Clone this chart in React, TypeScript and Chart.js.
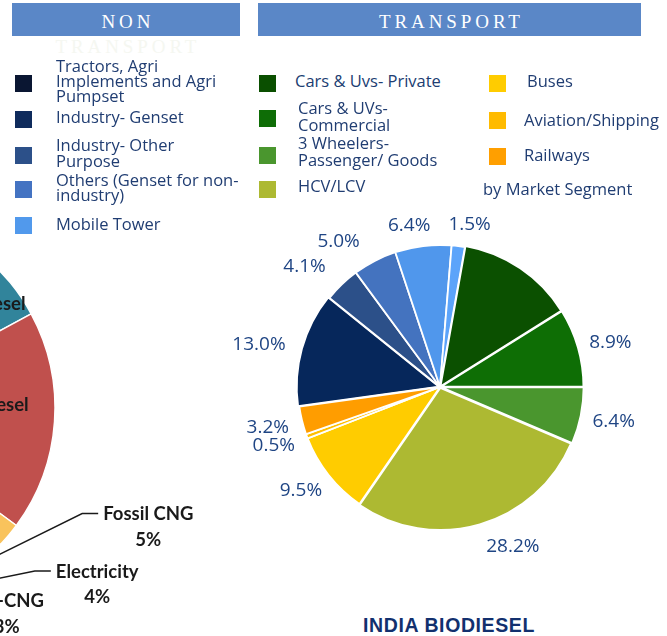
import React, { useEffect, useRef } from "react";
import { Chart, registerables } from "chart.js";
Chart.register(...registerables);

// ---------- DATA ----------
const nonTransportCategories = [
  "Tractors, Agri\nImplements and Agri\nPumpset",
  "Industry- Genset",
  "Industry- Other\nPurpose",
  "Others (Genset for non-\nindustry)",
  "Mobile Tower",
];
const transportCategories = [
  "Cars & Uvs- Private",
  "Cars & UVs-\nCommercial",
  "3 Wheelers-\nPassenger/ Goods",
  "HCV/LCV",
  "Buses",
  "Aviation/Shipping",
  "Railways",
];
const segmentCategories = [...nonTransportCategories, ...transportCategories];
// share of India biodiesel demand (%), clockwise from the navy slice
const segmentShares = [13.0, 4.1, 5.0, 6.4, 1.5, 13.3, 8.9, 6.4, 28.2, 9.5, 0.5, 3.2];
const unlabeledSegments = ["Cars & Uvs- Private"];

const fuelCategories = ["Biodiesel", "Fossil Diesel", "Ethanol", "Fossil CNG", "Electricity", "Bio-CNG", "Fossil Petrol"];
const fuelShares = [6, 18, 2, 5, 4, 3, 62];

const headerTexts = ["NON", "TRANSPORT"];
const chartTitle = "INDIA BIODIESEL";
const legendNote = "by Market Segment";

// ---------- STYLES ----------
const sliceColors = ["#06275b", "#2c5089", "#4473bf", "#5097ec", "#5ca4fa", "#0b5000", "#0e6e05", "#4a962e", "#adb932", "#ffcc00", "#ffbf00", "#ff9d00"];
const sliceOffsets = [4, 0, 0, 0, 0, 4, 4, 4, 4, 0, 0, 0];
const legendColors = ["#0a1632", "#0f2b5c", "#2c5089", "#4473c2", "#5199ec", "#0a4f00", "#0e6d06", "#4a962e", "#adb932", "#ffcc00", "#ffbb00", "#ff9f00"];
const fuelColors = ["#31849b", "#c0504d", "#f9c35c", "#9bbb59", "#8064a2", "#4bacc6", "#4f81bd"];

const TEXT_BLUE = "#203d72";
const LABEL_BLUE = "#1f4584";
const LEG_FS = 16.5;
const baseOff = (lh: number) => (lh - 1.362 * LEG_FS) / 2 + 1.069 * LEG_FS;

// legend layout: square x/y, text x, first baseline, line height
const legendLayout = [
  { sx: 15, sy: 75, tx: 56, by: 72, lh: 15.2 },
  { sx: 15, sy: 111, tx: 56, by: 123, lh: 15.2 },
  { sx: 15, sy: 147, tx: 56, by: 151.5, lh: 15.2 },
  { sx: 15, sy: 181, tx: 56, by: 186, lh: 15.2 },
  { sx: 15, sy: 217, tx: 56, by: 230, lh: 15.2 },
  { sx: 259, sy: 75, tx: 295, by: 88, lh: 16.8 },
  { sx: 259, sy: 110, tx: 298, by: 115, lh: 16.8 },
  { sx: 259, sy: 147, tx: 298, by: 150, lh: 16.8 },
  { sx: 259, sy: 181, tx: 298, by: 193, lh: 16.8 },
  { sx: 489, sy: 75, tx: 527, by: 88, lh: 16.8 },
  { sx: 489, sy: 112, tx: 524, by: 127, lh: 16.8 },
  { sx: 489, sy: 148, tx: 524, by: 162, lh: 16.8 },
];

const flat = (s: string) => s.replace(/-\n/g, "-").replace(/\n/g, " ");

// ---------- PLUGINS ----------
const mainLabelPlugin = {
  id: "mainLabels",
  afterDatasetsDraw(chart: any, _a: any, opts: any) {
    const ctx = chart.ctx;
    const meta = chart.getDatasetMeta(0);
    const labels = chart.data.labels as string[];
    const data = chart.data.datasets[0].data as number[];
    ctx.save();
    ctx.font = `${opts.size}px ${opts.family}`;
    ctx.fillStyle = opts.color;
    ctx.textAlign = "center";
    ctx.textBaseline = "alphabetic";
    const h = opts.boxHeight;
    const items: any[] = [];
    meta.data.forEach((arc: any, i: number) => {
      if (opts.hidden.includes(labels[i])) return;
      const p = arc.getProps(["x", "y", "startAngle", "endAngle", "outerRadius"], true);
      const mid = (p.startAngle + p.endAngle) / 2;
      const text = data[i].toFixed(1) + "%";
      const w = ctx.measureText(text).width;
      const r = p.outerRadius + opts.gap;
      const dx = Math.cos(mid), dy = Math.sin(mid);
      const n = opts.nudge[labels[i]] || [0, 0];
      items.push({
        text, w,
        side: Math.abs(dx) > Math.abs(dy),
        x: p.x + (r + w / 2) * dx + n[0],
        y: p.y + (r + h / 2) * dy + n[1],
      });
    });
    for (let it = 0; it < 12; it++) {
      for (let a = 0; a < items.length; a++) {
        for (let b = a + 1; b < items.length; b++) {
          const A = items[a], B = items[b];
          const vy = Math.abs(A.y - B.y), vx = Math.abs(A.x - B.x);
          const needX = (A.w + B.w) / 2 + opts.minGapX;
          if (vy < h && vx < needX) {
            if (A.side && B.side) {
              const d = (h + 1 - vy) / 2;
              if (A.y < B.y) { A.y -= d; B.y += d; } else { A.y += d; B.y -= d; }
            } else {
              const d = (needX - vx) / 2;
              if (A.x < B.x) { A.x -= d; B.x += d; } else { A.x += d; B.x -= d; }
            }
          }
        }
      }
    }
    const capH = opts.size * 0.714;
    items.forEach((o) => ctx.fillText(o.text, o.x, o.y + capH / 2));
    ctx.restore();
  },
};

const fuelLabelPlugin = {
  id: "fuelLabels",
  afterDatasetsDraw(chart: any, _a: any, opts: any) {
    const ctx = chart.ctx;
    const meta = chart.getDatasetMeta(0);
    const labels = chart.data.labels as string[];
    const data = chart.data.datasets[0].data as number[];
    ctx.save();
    ctx.font = `bold ${opts.size}px ${opts.family}`;
    ctx.fillStyle = opts.color;
    ctx.strokeStyle = opts.color;
    ctx.lineWidth = 1.4;
    ctx.textAlign = "center";
    ctx.textBaseline = "alphabetic";
    const capH = opts.size * 0.72;
    meta.data.forEach((arc: any, i: number) => {
      const name = labels[i];
      const anc = opts.anchors[name];
      if (!anc) return;
      const p = arc.getProps(["x", "y", "startAngle", "endAngle", "outerRadius"], true);
      const lx = p.x + anc.dx, ly = p.y + anc.dy;
      ctx.fillText(name, lx, ly + capH / 2);
      if (anc.value) {
        ctx.fillText(data[i] + "%", lx, ly + opts.lineGap + capH / 2);
        const mid = (p.startAngle + p.endAngle) / 2;
        const w = ctx.measureText(name).width;
        const left = lx - w / 2 - 5;
        ctx.beginPath();
        ctx.moveTo(p.x + p.outerRadius * Math.cos(mid), p.y + p.outerRadius * Math.sin(mid));
        ctx.lineTo(left - 16, ly);
        ctx.lineTo(left, ly);
        ctx.stroke();
      }
    });
    ctx.restore();
  },
};

export default function App() {
  const mainRef = useRef<HTMLCanvasElement>(null);
  const fuelRef = useRef<HTMLCanvasElement>(null);

  useEffect(() => {
    const main = new Chart(mainRef.current!, {
      type: "pie",
      data: {
        labels: segmentCategories.map(flat),
        datasets: [{
          data: segmentShares,
          backgroundColor: sliceColors,
          borderColor: "#ffffff",
          borderWidth: 1.8,
          offset: sliceOffsets,
        }],
      },
      options: {
        responsive: false,
        animation: false,
        devicePixelRatio: 1,
        rotation: 262.1,
        radius: 142,
        events: [],
        layout: { padding: 0 },
        plugins: {
          legend: { display: false },
          tooltip: { enabled: false },
          mainLabels: {
            size: 19,
            family: "'Open Sans', sans-serif",
            color: LABEL_BLUE,
            gap: 14,
            boxHeight: 18,
            minGapX: 18,
            hidden: unlabeledSegments,
            nudge: {
              "Industry- Other Purpose": [-20, 0],
              "Industry- Genset": [-13, -3],
              "Tractors, Agri Implements and Agri Pumpset": [-5, 0],
              "Others (Genset for non-industry)": [-3, 1],
              "HCV/LCV": [22, 0],
            },
          },
        } as any,
      },
      plugins: [mainLabelPlugin as any],
    });

    const fuel = new Chart(fuelRef.current!, {
      type: "pie",
      data: {
        labels: fuelCategories,
        datasets: [{
          data: fuelShares,
          backgroundColor: fuelColors,
          borderColor: "#ffffff",
          borderWidth: 1.5,
        }],
      },
      options: {
        responsive: false,
        animation: false,
        devicePixelRatio: 1,
        rotation: 40,
        radius: 198,
        events: [],
        layout: { padding: { left: 0, top: 0, bottom: 0, right: 140 } },
        plugins: {
          legend: { display: false },
          tooltip: { enabled: false },
          fuelLabels: {
            size: 18.5,
            family: "Lato, sans-serif",
            color: "#1a1a1a",
            lineGap: 25.5,
            anchors: {
              "Biodiesel": { dx: 131, dy: -105 },
              "Fossil Diesel": { dx: 121, dy: -4 },
              "Fossil CNG": { dx: 291.3, dy: 105.5, value: true },
              "Electricity": { dx: 240.2, dy: 163, value: true },
              "Bio-CNG": { dx: 149.8, dy: 192.8, value: true },
            },
          },
        } as any,
      },
      plugins: [fuelLabelPlugin as any],
    });

    return () => {
      main.destroy();
      fuel.destroy();
    };
  }, []);

  const headerStyle = (left: number, width: number): React.CSSProperties => ({
    position: "absolute", left, top: 3, width, height: 33, background: "#5a87c7",
  });
  const headerText = (left: number, width: number, top: number, color: string, text: string) => (
    <div style={{
      position: "absolute", left, top, width, textAlign: "center",
      font: "19px 'Liberation Serif', 'Times New Roman', serif", lineHeight: "21px",
      letterSpacing: "3.9px", paddingLeft: 3.9, boxSizing: "border-box", color, whiteSpace: "nowrap",
    }}>{text}</div>
  );

  return (
    <div style={{ position: "absolute", left: 0, top: 0, width: 667, height: 636, overflow: "hidden", background: "#ffffff" }}>
      <canvas ref={fuelRef} width={600} height={460} style={{ position: "absolute", left: -373, top: 178 }} />
      <canvas ref={mainRef} width={440} height={400} style={{ position: "absolute", left: 220, top: 187 }} />

      <div style={headerStyle(12, 228)} />
      <div style={headerStyle(258, 383)} />
      {headerText(12, 228, 28.3 - 16.9, "#ffffff", headerTexts[0])}
      {headerText(258, 383, 28.3 - 16.9, "#ffffff", headerTexts[1])}
      {headerText(12, 228, 53 - 16.9, "#f5f7f1", headerTexts[1])}

      {segmentCategories.map((name, i) => {
        const L = legendLayout[i];
        return (
          <React.Fragment key={name}>
            <div style={{ position: "absolute", left: L.sx, top: L.sy, width: 17, height: 17, background: legendColors[i] }} />
            <div style={{
              position: "absolute", left: L.tx, top: L.by - baseOff(L.lh),
              font: `${LEG_FS}px 'Open Sans', sans-serif`, lineHeight: `${L.lh}px`,
              color: TEXT_BLUE, whiteSpace: "pre",
            }}>{name}</div>
          </React.Fragment>
        );
      })}
      <div style={{
        position: "absolute", left: 483, top: 196 - baseOff(16.8),
        font: `${LEG_FS}px 'Open Sans', sans-serif`, lineHeight: "16.8px", color: TEXT_BLUE, whiteSpace: "pre",
      }}>{legendNote}</div>

      <div style={{
        position: "absolute", left: 249, width: 400, top: 615, textAlign: "center",
        font: "bold 19.5px 'Liberation Sans', Arial, sans-serif", lineHeight: "20px",
        letterSpacing: "0.6px", color: "#12306e", whiteSpace: "nowrap",
      }}>{chartTitle}</div>
    </div>
  );
}
